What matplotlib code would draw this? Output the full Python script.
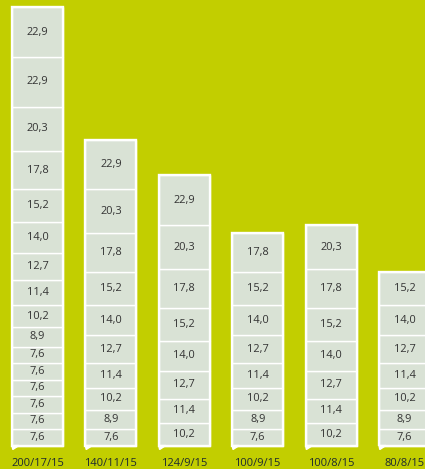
import matplotlib
matplotlib.use("Agg")
import matplotlib.pyplot as plt

categories = ["200/17/15", "140/11/15", "124/9/15", "100/9/15", "100/8/15", "80/8/15"]
bar1 = [7.6, 7.6, 7.6, 7.6, 7.6, 7.6, 8.9, 10.2, 11.4, 12.7, 14.0, 15.2, 17.8, 20.3, 22.9, 22.9]
bar2 = [7.6, 8.9, 10.2, 11.4, 12.7, 14.0, 15.2, 17.8, 20.3, 22.9]
bar3 = [10.2, 11.4, 12.7, 14.0, 15.2, 17.8, 20.3, 22.9]
bar4 = [7.6, 8.9, 10.2, 11.4, 12.7, 14.0, 15.2, 17.8]
bar5 = [10.2, 11.4, 12.7, 14.0, 15.2, 17.8, 20.3]
bar6 = [7.6, 8.9, 10.2, 11.4, 12.7, 14.0, 15.2]
stacks = [bar1, bar2, bar3, bar4, bar5, bar6]

BG = "#c2ce00"
FILL = "#d9e2d5"
plt.rcParams['font.family'] = ['Open Sans', 'DejaVu Sans']

W, H = 425, 469
fig = plt.figure(figsize=(W / 100, H / 100), dpi=100)
fig.patch.set_facecolor(BG)
ax = fig.add_axes([0, 0, 1, 1])
ax.set_facecolor(BG)
ax.set_axis_off()

px_x = 73.4   # pixels per x unit
px_y = 2.17   # pixels per y unit
x0 = 37.5
ybot = 23.5
ax.set_xlim(-x0 / px_x, (W - x0) / px_x)
ax.set_ylim(-ybot / px_y, (H - ybot) / px_y)

width = 0.695
for i, (cat, segs) in enumerate(zip(categories, stacks)):
    bottom = 0.0
    for v in segs:
        ax.bar(i, v, bottom=bottom, width=width, color=FILL, edgecolor="white",
               linewidth=1.0, zorder=2)
        ax.text(i, bottom + v / 2, f"{v:.1f}".replace(".", ","), ha="center",
                va="center", fontsize=7.9, color="#333333", zorder=4)
        bottom += v
    ax.bar(i, bottom, width=width, fill=False, edgecolor="white", linewidth=1.7, zorder=3)
    # small tail at bottom-left
    L = i - width / 2
    tx = [L, L + 7 / px_x, L + 0.8 / px_x]
    ty = [0, 0, -4 / px_y]
    ax.fill(tx, ty, color="white", zorder=3, clip_on=False)
    ax.text(i, -18 / px_y, cat, ha="center", va="center", fontsize=8,
            color="#1e2a30", zorder=4)

fig.savefig("out.png", dpi=100, facecolor=BG)
